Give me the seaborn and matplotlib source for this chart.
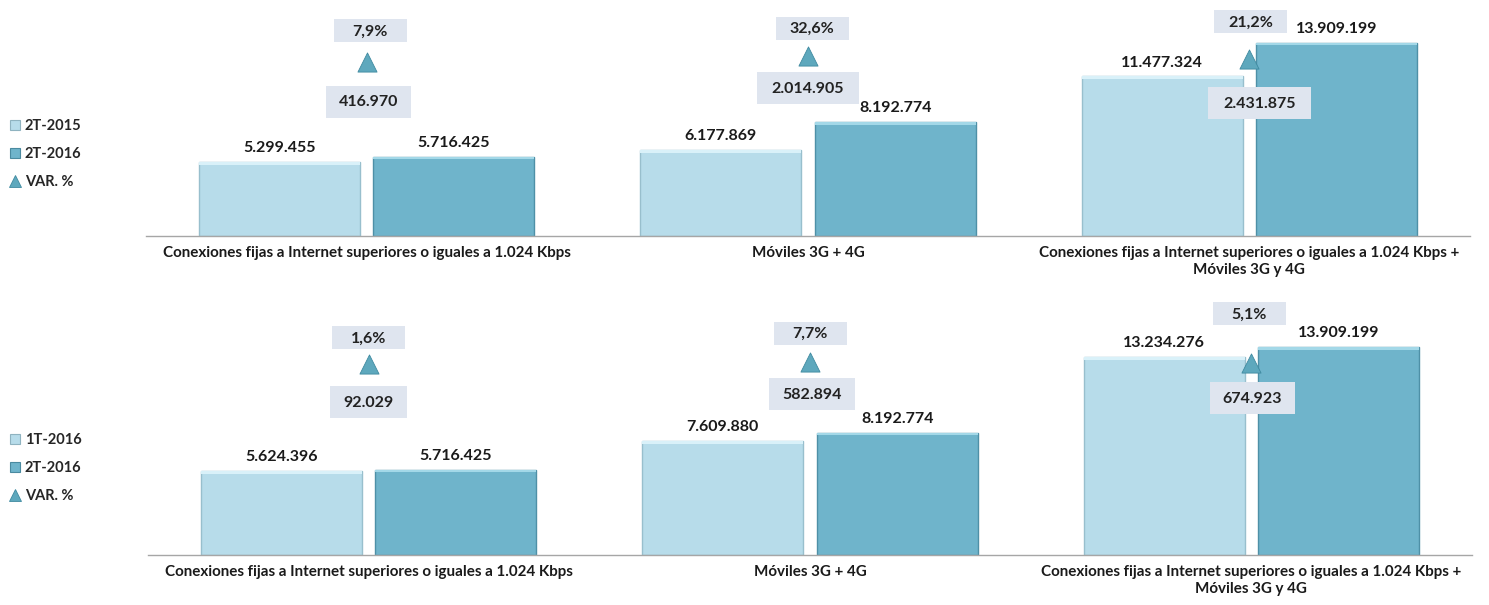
import numpy as np
import pandas as pd
import seaborn as sns
import matplotlib
matplotlib.use("Agg")
import matplotlib.pyplot as plt
from matplotlib.offsetbox import DrawingArea, AnnotationBbox
from matplotlib.lines import Line2D
from matplotlib.text import Text
from matplotlib.patches import Rectangle

# ---------------- data ----------------
categories = [
    "Conexiones fijas a Internet superiores o iguales a 1.024 Kbps",
    "Móviles 3G + 4G",
    "Conexiones fijas a Internet superiores o iguales a 1.024 Kbps +\nMóviles 3G y 4G",
]
top_periods = ["2T-2015", "2T-2016"]
top_prev = [5299455, 6177869, 11477324]
top_curr = [5716425, 8192774, 13909199]
top_diff = [416970, 2014905, 2431875]
top_pct = [7.9, 32.6, 21.2]

bot_periods = ["1T-2016", "2T-2016"]
bot_prev = [5624396, 7609880, 13234276]
bot_curr = [5716425, 8192774, 13909199]
bot_diff = [92029, 582894, 674923]
bot_pct = [1.6, 7.7, 5.1]

var_label = "VAR. %"

# ---------------- style ----------------
LIGHT = "#b7dcea"
DARK = "#6fb4cb"
LIGHT_EDGE = "#98bfcd"
DARK_EDGE = "#4e90a7"
TRI = "#5ea8bd"
TRI_EDGE = "#3f8aa0"
BOXC = "#dfe5ef"
FONT = "Lato"
PX = 0.72  # px -> pt at dpi 100

sns.set_theme(style="white")
plt.rcParams["font.family"] = [FONT, "DejaVu Sans"]

W, H = 1489, 605
fig = plt.figure(figsize=(W / 100, H / 100), dpi=100)


def fmt_int(v):
    return f"{int(round(v)):,}".replace(",", ".")


def fmt_pct(p):
    return f"{p:.1f}%".replace(".", ",")


def boxed(ax, x, y, text, dx, dy, w, h, fs=11.5):
    da = DrawingArea(w * PX, h * PX, 0, 0)
    t = Text(w * PX / 2, h * PX / 2 - 0.5, text, ha="center", va="center",
             fontsize=fs, fontweight="bold", family=FONT, color="#222222")
    da.add_artist(t)
    ab = AnnotationBbox(da, (x, y), xybox=(dx * PX, dy * PX), xycoords="data",
                        boxcoords="offset points", frameon=True, pad=0,
                        bboxprops=dict(fc=BOXC, ec="none"),
                        box_alignment=(0.5, 0.5), zorder=6)
    ax.add_artist(ab)


def panel(rect, periods, prev, curr, diff, pct, ymax, tw_lim,
          pct_off, diff_off, leg_y):
    ax = fig.add_axes(rect)
    df = pd.DataFrame({
        "cat": categories * 2,
        "period": [periods[0]] * 3 + [periods[1]] * 3,
        "value": prev + curr,
    })
    sns.barplot(data=df, x="cat", y="value", hue="period",
                palette=[LIGHT, DARK], width=0.79, gap=0.075,
                legend=False, ax=ax, saturation=1)
    edges = [LIGHT_EDGE, DARK_EDGE]
    tops = ["#d9f1f9", "#a3d8e8"]
    for ci, cont in enumerate(ax.containers):
        for p in cont.patches:
            p.set_edgecolor(edges[ci])
            p.set_linewidth(1.0)
            hl = Rectangle((p.get_x(), p.get_height() - ymax * 0.012),
                           p.get_width(), ymax * 0.012,
                           fc=tops[ci], ec="none", zorder=3)
            ax.add_patch(hl)
        ax.bar_label(cont, labels=[fmt_int(v) for v in cont.datavalues],
                     padding=5, fontsize=11.5, fontweight="bold",
                     color="#1a1a1a", family=FONT)
    ax.set_xlim(-0.5, 2.5)
    ax.set_ylim(0, ymax)
    ax.set_xlabel("")
    ax.set_ylabel("")
    ax.set_yticks([])
    ax.set_xticks(range(3))
    ax.set_xticklabels(categories, fontsize=10.9, fontweight="bold",
                       color="#1a1a1a", family=FONT, linespacing=1.3)
    ax.tick_params(axis="x", which="major", length=0, pad=7)
    ax.set_xticks([-0.5, 0.5, 1.5, 2.5], minor=True)
    ax.tick_params(axis="x", which="minor", length=4, width=1,
                   color="#a6a6a6", direction="out")
    for s in ["top", "right", "left"]:
        ax.spines[s].set_visible(False)
    ax.spines["bottom"].set_color("#a6a6a6")
    ax.spines["bottom"].set_linewidth(1.0)

    ax2 = ax.twinx()
    ax2.set_ylim(*tw_lim)
    for s in ax2.spines.values():
        s.set_visible(False)
    ax2.set_yticks([])
    ax2.scatter(np.arange(3), pct, marker="^", s=190, c=TRI,
                edgecolors=TRI_EDGE, linewidths=0.6, zorder=5)
    for i in range(3):
        boxed(ax2, i, pct[i], fmt_pct(pct[i]), pct_off[i][0], pct_off[i][1],
              73, 23)
        w = 26 + 8.5 * len(fmt_int(diff[i]))
        boxed(ax2, i, pct[i], fmt_int(diff[i]), diff_off[i][0], diff_off[i][1],
              w, 32)

    handles = [
        Line2D([], [], marker="s", ls="", ms=7, mfc=LIGHT, mec="#8fb3c0", mew=0.8),
        Line2D([], [], marker="s", ls="", ms=7, mfc=DARK, mec="#4a8aa0", mew=0.8),
        Line2D([], [], marker="^", ls="", ms=8, mfc=TRI, mec=TRI_EDGE, mew=0.6),
    ]
    fig.legend(handles, [periods[0], periods[1], var_label],
               loc="center left", bbox_to_anchor=(6 / W, 1 - leg_y / H),
               frameon=False, prop=dict(family=FONT, weight="bold", size=10.5),
               labelspacing=0.95, handletextpad=0.1, handlelength=1.2,
               borderaxespad=0, borderpad=0)
    return ax


# top panel: axes pixels x 146..1470, y 10..236
panel([146 / W, 1 - 236 / H, 1324 / W, 226 / H],
      top_periods, top_prev, top_curr, top_diff, top_pct,
      ymax=226 / 13.9 * 1e6, tw_lim=(-784, 243),
      pct_off=[(3.5, 31), (4, 28), (1, 37)],
      diff_off=[(2, -40), (0, -32), (10, -44)],
      leg_y=154)

# bottom panel: axes pixels x 148..1472, y 320..555
panel([148 / W, 1 - 555 / H, 1324 / W, 235 / H],
      bot_periods, bot_prev, bot_curr, bot_diff, bot_pct,
      ymax=235 / 14.95 * 1e6, tw_lim=(-635, 148),
      pct_off=[(0, 26), (0, 29), (-2, 49)],
      diff_off=[(0, -38), (2, -32), (1, -35)],
      leg_y=468)

fig.savefig("out.png", dpi=100, facecolor="white")
